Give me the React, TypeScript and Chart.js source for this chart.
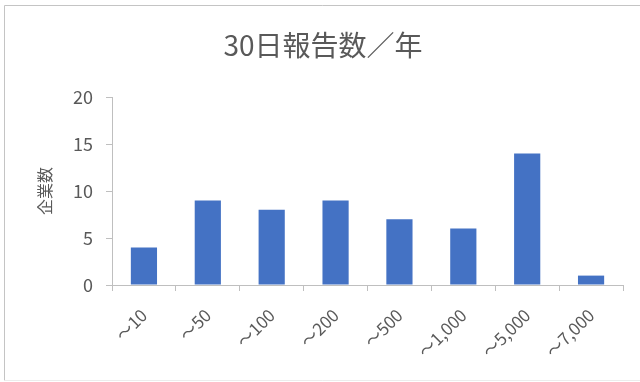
import React, { useEffect, useRef } from "react";
import { Chart, registerables } from "chart.js";

Chart.register(...registerables);

const categories = ["～10", "～50", "～100", "～200", "～500", "～1,000", "～5,000", "～7,000"];
const companyCounts = [4, 9, 8, 9, 7, 6, 14, 1];
const yTicks = [0, 5, 10, 15, 20];
const chartTitle = "30日報告数／年";
const yAxisTitle = "企業数";

const FONT = "'Noto Sans CJK JP', 'Noto Sans', sans-serif";
const TEXT = "#595959";
const AXIS = "#bfbfbf";

const frame = {
  id: "frame",
  beforeDraw(chart: any) {
    const ctx = chart.ctx;
    ctx.save();
    ctx.fillStyle = "#ffffff";
    ctx.fillRect(0, 0, chart.width, chart.height);
    ctx.strokeStyle = "#c4c4c4";
    ctx.lineWidth = 1;
    ctx.beginPath();
    ctx.moveTo(4.5, 380.5);
    ctx.lineTo(4.5, 5.5);
    ctx.lineTo(chart.width, 5.5);
    ctx.stroke();
    ctx.strokeStyle = "#ececec";
    ctx.beginPath();
    ctx.moveTo(4.5, 380.5);
    ctx.lineTo(chart.width, 380.5);
    ctx.stroke();
    ctx.restore();
  },
};

export default function App() {
  const ref = useRef<HTMLCanvasElement>(null);
  useEffect(() => {
    document.body.style.margin = "0";
    const chart = new Chart(ref.current!, {
      type: "bar",
      data: {
        labels: categories,
        datasets: [
          {
            data: companyCounts,
            backgroundColor: "#4472C4",
            barPercentage: 0.41,
            categoryPercentage: 1,
          },
        ],
      },
      plugins: [frame],
      options: {
        animation: false,
        responsive: false,
        maintainAspectRatio: false,
        layout: { padding: { top: 6, left: 23, right: 17, bottom: 0 } },
        plugins: {
          legend: { display: false },
          tooltip: { enabled: false },
          title: {
            display: true,
            text: chartTitle,
            color: TEXT,
            font: { family: FONT, size: 28, weight: "normal", lineHeight: 1.2 },
            padding: { top: 23, bottom: 34.4 },
          },
        },
        scales: {
          x: {
            grid: { drawOnChartArea: false, drawTicks: true, tickLength: 6, color: AXIS, offset: true },
            border: { color: AXIS },
            ticks: {
              color: TEXT,
              font: { family: FONT, size: 17 },
              minRotation: 45,
              maxRotation: 45,
              padding: 14,
              autoSkip: false,
            },
            afterFit(scale: any) {
              scale.height = 97;
            },
          },
          y: {
            min: 0,
            max: 20,
            grid: { drawOnChartArea: false, drawTicks: true, tickLength: 6, color: AXIS },
            border: { color: AXIS },
            afterBuildTicks(scale: any) {
              scale.ticks = yTicks.map((v) => ({ value: v }));
            },
            ticks: {
              color: TEXT,
              font: { family: FONT, size: 18 },
              padding: 13,
            },
            title: {
              display: true,
              text: yAxisTitle,
              color: TEXT,
              font: { family: FONT, size: 16 },
              padding: { top: 12, bottom: 0 },
            },
            afterFit(scale: any) {
              scale.width = 89;
            },
          },
        },
      },
    } as any);
    return () => chart.destroy();
  }, []);
  return (
    <div style={{ width: 640, height: 382 }}>
      <canvas ref={ref} width={640} height={382} style={{ display: "block" }} />
    </div>
  );
}
